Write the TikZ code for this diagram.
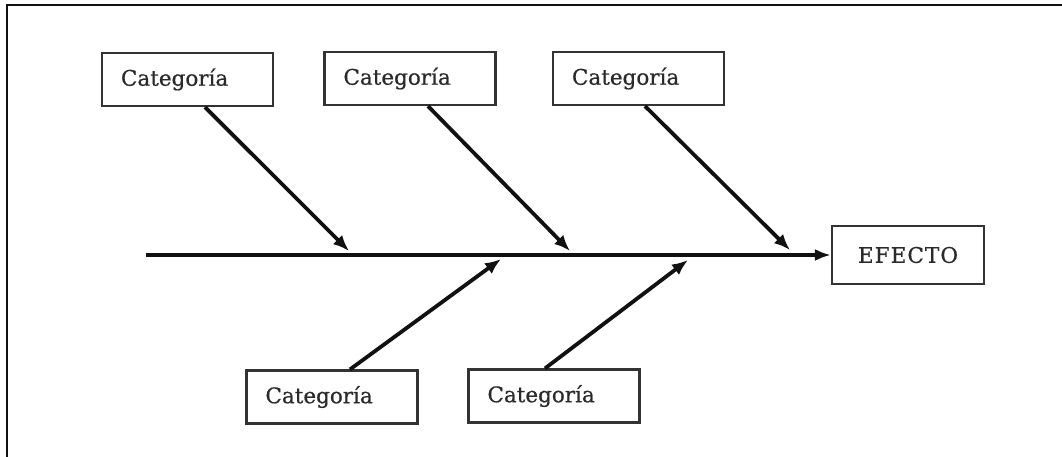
\documentclass[tikz,border=0pt]{standalone}
\usepackage{fontspec}
\setmainfont{DejaVu Serif}[FakeBold=0.6]
\usetikzlibrary{arrows.meta}
\definecolor{ink}{HTML}{111111}
\definecolor{boxline}{HTML}{333333}
\definecolor{txt}{HTML}{2A2A2A}
\tikzset{
  catbox/.style={draw=boxline, line width=2.2pt, rectangle,
    minimum width=171pt, minimum height=53pt, text width=133pt,
    inner xsep=19pt, inner ysep=0pt, align=left, text=txt,
    font=\fontsize{21.5}{24}\selectfont},
  effbox/.style={draw=boxline, line width=2.2pt, rectangle,
    minimum width=152pt, minimum height=58pt, inner sep=0pt,
    text=txt, font=\fontsize{21.5}{24}\selectfont\addfontfeature{LetterSpace=5}},
  bone/.style={draw=ink, line width=3.8pt,
    -{Latex[length=16pt,width=13pt]}},
  spine/.style={draw=ink, line width=3.4pt,
    -{Latex[length=16pt,width=12pt]}},
  frame/.style={draw=ink, line width=2.6pt}
}
\begin{document}
\begin{tikzpicture}[x=1pt, y=-1pt]
  \useasboundingbox (0,0) rectangle (1062,457);
  % outer frame (top and left edges)
  \draw[frame] (7,457) -- (7,5) -- (1062,5);

  % category boxes
  \node[catbox] (b1) at (187.5,79.5) {Categoría};
  \node[catbox] (b2) at (410,78.5) {Categoría};
  \node[catbox] (b3) at (638.5,78.5) {Categoría};
  \node[catbox] (b4) at (332,397) {Categoría};
  \node[catbox] (b5) at (554,396) {Categoría};

  % effect box
  \node[effbox] (ef) at (908,255) {EFECTO};

  % spine
  \coordinate (tail) at (146,255);
  \draw[spine] (tail) -- (ef.west);

  % points where the bones meet the spine
  \coordinate (t1) at (349,251);
  \coordinate (t2) at (570,251);
  \coordinate (t3) at (790,250);
  \coordinate (t4) at (501,259);
  \coordinate (t5) at (688,260);

  % bones
  \draw[bone] ([xshift=17.5pt]b1.south) -- (t1);
  \draw[bone] ([xshift=18pt]b2.south) -- (t2);
  \draw[bone] ([xshift=6.5pt]b3.south) -- (t3);
  \draw[bone] ([xshift=18pt]b4.north) -- (t4);
  \draw[bone] ([xshift=-9pt]b5.north) -- (t5);
\end{tikzpicture}
\end{document}
